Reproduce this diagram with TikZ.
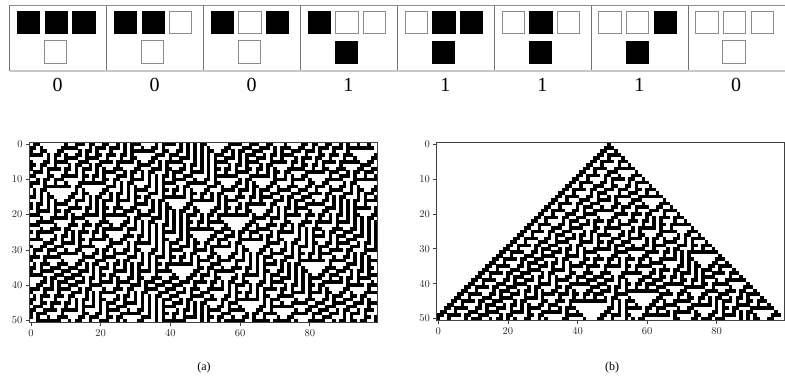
\documentclass[tikz,border=0pt]{standalone}
\usepackage{fontspec}
\newfontfamily\timesfont{Liberation Serif}
% ---------- Rule 30 cellular automaton machinery ----------
\newcount\CAi \newcount\CArow \newcount\CAl \newcount\CAR \newcount\CAk
\newcount\CAstart \newcount\CAseed \newcount\CAq
\newif\ifCAinrun
\def\CAzero{\CAi=0 \CAzeroloop}
\def\CAzeroloop{\ifnum\CAi<100 \expandafter\def\csname CAc\the\CAi\endcsname{0}\advance\CAi1 \expandafter\CAzeroloop\fi}
\def\CArandom{\CAi=0 \CArandloop}
\def\CArandloop{\ifnum\CAi<100
  \CAseed=\numexpr\CAseed*1101+12345\relax
  \CAq=\numexpr\CAseed/32768\relax
  \CAseed=\numexpr\CAseed-\CAq*32768\relax
  \ifnum\CAseed<0 \advance\CAseed32768 \fi
  \ifnum\CAseed<16384 \expandafter\def\csname CAc\the\CAi\endcsname{0}\else\expandafter\def\csname CAc\the\CAi\endcsname{1}\fi
  \advance\CAi1
  \expandafter\CArandloop\fi}
\def\CAstep{\CAi=0 \CAsteploop \CAi=0 \CAcopyloop}
\def\CAsteploop{\ifnum\CAi<100
  \CAl=\CAi \advance\CAl-1 \ifnum\CAl<0 \CAl=99 \fi
  \CAR=\CAi \advance\CAR1 \ifnum\CAR>99 \CAR=0 \fi
  \CAk=\numexpr4*\csname CAc\the\CAl\endcsname+2*\csname CAc\the\CAi\endcsname+\csname CAc\the\CAR\endcsname\relax
  \ifnum\CAk>4 \CAk=0 \fi
  \ifnum\CAk>0 \expandafter\def\csname CAn\the\CAi\endcsname{1}\else\expandafter\def\csname CAn\the\CAi\endcsname{0}\fi
  \advance\CAi1
  \expandafter\CAsteploop\fi}
\def\CAcopyloop{\ifnum\CAi<100
  \expandafter\let\csname CAc\the\CAi\expandafter\endcsname\csname CAn\the\CAi\endcsname
  \advance\CAi1 \expandafter\CAcopyloop\fi}
\def\CAemit{\edef\CAtmp{\noexpand\fill (\the\CAstart,\the\CArow) rectangle (\the\CAi,\the\CArow+1.07);}\CAtmp}
\def\CAdrawrow{\CAi=0 \CAinrunfalse \CAdrawloop}
\def\CAdrawloop{\ifnum\CAi<101
  \ifnum\CAi=100 \def\CAv{0}\else\edef\CAv{\csname CAc\the\CAi\endcsname}\fi
  \ifnum\CAv=1
    \ifCAinrun\else\CAstart=\CAi \CAinruntrue\fi
  \else
    \ifCAinrun\CAemit\CAinrunfalse\fi
  \fi
  \advance\CAi1
  \expandafter\CAdrawloop\fi}
\def\CAplot{\CArow=0 \CAplotloop}
\def\CAplotloop{\ifnum\CArow<51 \CAdrawrow\CAstep\advance\CArow1 \expandafter\CAplotloop\fi}
\begin{document}
\begin{tikzpicture}[x=1pt,y=-1pt,
  sq1/.style={fill=black,draw=black,line width=0.5pt},
  sq0/.style={fill=white,draw=black!45,line width=0.8pt},
  gridline/.style={draw=black!55,line width=0.8pt},
  axtick/.style={draw=black!75,line width=0.6pt},
  axframe/.style={draw=black!75,line width=0.7pt},
  ticklabel/.style={inner sep=0pt,font=\fontsize{10.5}{12}\selectfont,text=black!85},
  rulenum/.style={inner sep=0pt,font=\timesfont\fontsize{20}{24}\selectfont},
  caption/.style={inner sep=0pt,font=\timesfont\fontsize{12}{14}\selectfont}]
\useasboundingbox (0,0) rectangle (785,379);
% ---------- rule table ----------
\foreach \k/\a/\b/\c/\o in {0/1/1/1/0,1/1/1/0/0,2/1/0/1/0,3/1/0/0/1,4/0/1/1/1,5/0/1/0/1,6/0/0/1/1,7/0/0/0/0}{
  \pgfmathsetmacro{\L}{9.5+96.93*\k}
  \path[sq\a] (\L+7.75,11.35) rectangle ++(22.3,22.3);
  \path[sq\b] (\L+35.35,11.35) rectangle ++(22.3,22.3);
  \path[sq\c] (\L+62.95,11.35) rectangle ++(22.3,22.3);
  \path[sq\o] (\L+34.85,40.85) rectangle ++(22.3,22.3);
  \node[rulenum] (num\k) at (\L+48.2,84.5) {\o};
}
\foreach \k in {1,...,7}{
  \draw[gridline] (9.5+96.93*\k,5) -- (9.5+96.93*\k,70.7);
}
\draw[gridline] (9.5,5) -- (9.5,70.7);
\draw[draw=black!45,line width=0.8pt] (9.5,5) -- (785,5);
\draw[draw=black!22,line width=2pt] (9.5,70.7) -- (785,70.7);
% ---------- plot (a): random initial row ----------
\begin{scope}[shift={(29.3,142.2)},x=3.484pt,y=-3.531pt]
  \begin{scope}
    \clip (0,0) rectangle (100,51);
    \global\CAseed=2024
    \CArandom
    \CAplot
  \end{scope}
  \draw[axframe] (0,0) rectangle (100,51);
  \foreach \r in {0,10,...,50}{
    \draw[axtick] (0,\r+.5) -- ++(-3.3pt,0);
    \node[ticklabel,anchor=east] (ay\r) at ([xshift=-6.6pt]0,\r+.5) {\r};
  }
  \foreach \c in {0,20,...,80}{
    \draw[axtick] (\c+.5,51) -- ++(0,-3.3pt);
    \node[ticklabel,anchor=north] (ax\c) at ([yshift=-6.6pt]\c+.5,51) {\c};
  }
\end{scope}
% ---------- plot (b): single seed ----------
\begin{scope}[shift={(436.6,142.3)},x=3.48pt,y=-3.49pt]
  \begin{scope}
    \clip (0,0) rectangle (100,51);
    \CAzero
    \expandafter\def\csname CAc49\endcsname{1}
    \CAplot
  \end{scope}
  \draw[axframe] (0,0) rectangle (100,51);
  \foreach \r in {0,10,...,50}{
    \draw[axtick] (0,\r+.5) -- ++(-3.3pt,0);
    \node[ticklabel,anchor=east] (by\r) at ([xshift=-6.6pt]0,\r+.5) {\r};
  }
  \foreach \c in {0,20,...,80}{
    \draw[axtick] (\c+.5,51) -- ++(0,-3.3pt);
    \node[ticklabel,anchor=north] (bx\c) at ([yshift=-6.6pt]\c+.5,51) {\c};
  }
\end{scope}
\node[caption] (capa) at (204,368) {(a)};
\node[caption] (capb) at (612,368) {(b)};
\end{tikzpicture}
\end{document}
